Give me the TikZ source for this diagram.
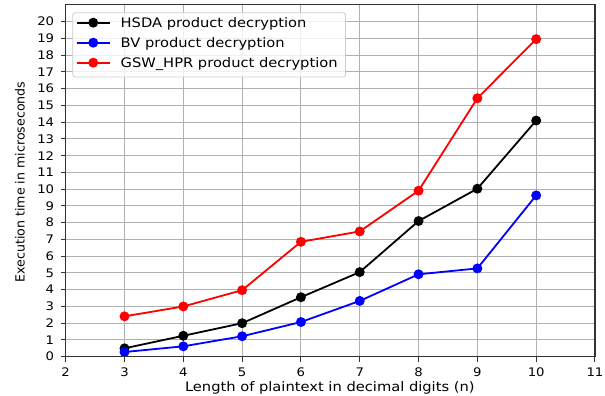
\documentclass[tikz,border=0pt]{standalone}
\usepackage{fontspec}
\setmainfont{DejaVu Sans}
\newfontfamily\wideft{DejaVu Sans}[FakeStretch=1.12]
\usetikzlibrary{calc}
\definecolor{gridgray}{HTML}{B0B0B0}
\definecolor{spinegray}{HTML}{333333}
\definecolor{legborder}{HTML}{CCCCCC}
\tikzset{
  gridline/.style={draw=gridgray, line width=0.9pt},
  spine/.style={draw=spinegray, line width=1.1pt},
  tickmark/.style={draw=spinegray, line width=1pt},
  ytick/.style={anchor=east, inner sep=0pt, font=\wideft\fontsize{11.8}{12}\selectfont},
  xtick/.style={anchor=north, inner sep=0pt, font=\wideft\fontsize{11.8}{12}\selectfont},
  axlabel/.style={inner sep=0pt, font=\wideft\fontsize{13.1}{14}\selectfont},
  ylab/.style={inner sep=0pt, rotate=90, font=\fontsize{12.6}{14}\selectfont},
  legtext/.style={anchor=base west, inner sep=0pt, font=\wideft\fontsize{13.1}{14}\selectfont},
  series/.style={draw=#1, line width=1.8pt, line join=round},
  dot/.style={fill=#1, draw=none},
}
\begin{document}
\begin{tikzpicture}[x=1pt,y=1pt]
\useasboundingbox (0,0) rectangle (605,396);
\begin{scope}[x=58.81pt, y=16.75pt, shift={(65.7pt-117.62pt,39.3pt)}]
  % grid
  \foreach \i in {3,...,10} \draw[gridline] (\i,0) -- (\i,21);
  \foreach \j in {1,...,20} \draw[gridline] (2,\j) -- (11,\j);
  % ticks
  \foreach \i in {2,...,11} {
    \draw[tickmark] (\i,0) -- ++(0,-5pt);
    \node[xtick] (xt\i) at ($(\i,0)+(0,-11pt)$) {\i};
  }
  \foreach \j in {0,...,20} {
    \draw[tickmark] (2,\j) -- ++(-5pt,0);
    \node[ytick] (yt\j) at ($(2,\j)+(-11.4pt,0)$) {\j};
  }
  % HSDA
  \draw[series=black] plot coordinates {(3,0.5) (4,1.25) (5,2.0) (6,3.55) (7,5.05) (8,8.1) (9,10.03) (10,14.1)};
  \foreach \x/\y in {3/0.5,4/1.25,5/2.0,6/3.55,7/5.05,8/8.1,9/10.03,10/14.1}
    \fill[dot=black] (\x,\y) circle (5pt);
  % BV
  \draw[series=blue] plot coordinates {(3,0.28) (4,0.62) (5,1.22) (6,2.07) (7,3.33) (8,4.92) (9,5.27) (10,9.63)};
  \foreach \x/\y in {3/0.28,4/0.62,5/1.22,6/2.07,7/3.33,8/4.92,9/5.27,10/9.63}
    \fill[dot=blue] (\x,\y) circle (5pt);
  % GSW_HPR
  \draw[series=red] plot coordinates {(3,2.41) (4,3.0) (5,3.97) (6,6.86) (7,7.48) (8,9.91) (9,15.43) (10,18.96)};
  \foreach \x/\y in {3/2.41,4/3.0,5/3.97,6/6.86,7/7.48,8/9.91,9/15.43,10/18.96}
    \fill[dot=red] (\x,\y) circle (5pt);
  % spines
  \draw[spine] (2,0) rectangle (11,21);
\end{scope}
% axis labels
\node[axlabel, anchor=base] (xlabel) at (329.8,4) {Length of plaintext in decimal digits (n)};
\node[ylab] (ylabel) at (20,214) {Execution time in microseconds};
% legend
\draw[draw=legborder, fill=white, fill opacity=0.8, rounded corners=2.5pt, line width=0.8pt]
  (72.7,396-12.7) rectangle (345.5,396-77);
\foreach \c/\py/\t [count=\k] in {black/22.7/HSDA product decryption, blue/42.7/BV product decryption, red/62.7/GSW\_HPR product decryption} {
  \coordinate (la\k) at (77,396-\py);
  \coordinate (lb\k) at (109.5,396-\py);
  \draw[series=\c] (la\k) -- (lb\k);
  \fill[dot=\c] ($(la\k)!0.5!(lb\k)$) circle (5pt);
  \node[legtext] (lt\k) at (120.5,396-\py-5) {\t};
}
\end{tikzpicture}
\end{document}
